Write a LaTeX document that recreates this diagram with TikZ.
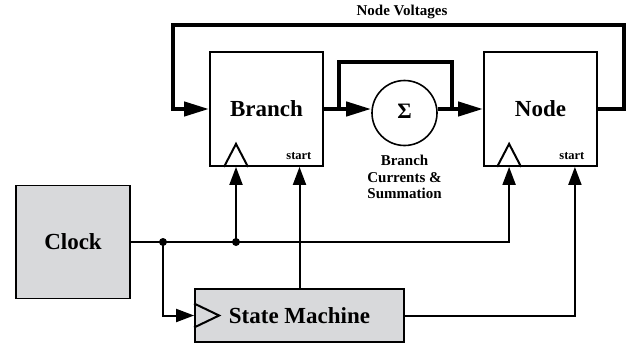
\documentclass[tikz,border=0pt]{standalone}
\usepackage{fontspec}
\setmainfont{Liberation Serif}
\usepackage{tikz}
\usetikzlibrary{positioning}
\usetikzlibrary{arrows.meta,calc}

\definecolor{blockgray}{RGB}{216,217,219}

\tikzset{
  block/.style={draw, line width=1.8pt, minimum width=113pt, minimum height=114pt, font=\fontsize{23}{26}\selectfont\bfseries},
  grayblock/.style={block, fill=blockgray},
  sumnode/.style={draw, circle, line width=1.6pt, minimum size=65pt, inner sep=0pt, font=\fontsize{22}{22}\selectfont\bfseries},
  bus/.style={line width=4.2pt},
  sig/.style={line width=2pt},
  bigarrow/.style={-{Triangle[length=25pt,width=14pt]}},
  arrowsig/.style={-{Triangle[length=18pt,width=13pt]}},
  lbl/.style={font=\fontsize{15}{16.5}\selectfont\bfseries, align=center, inner sep=0pt},
  startlbl/.style={font=\fontsize{12.5}{13}\selectfont\bfseries, inner sep=0pt},
  dot/.style={circle, fill=black, inner sep=0pt, minimum size=8pt},
}

\begin{document}
\begin{tikzpicture}[x=1pt, y=-1pt]
 \useasboundingbox (0,0) rectangle (634,343);

 %blocks
 \node[block] (branch) at (266.5,109) {Branch};
 \node[block] (node) at (540.5,109) {Node};
 \node[sumnode] (sum) at (404.5,113) {\raisebox{3pt}{Σ}};
 \node[grayblock, minimum width=114pt, minimum height=113pt] (clock) at (73,242) {Clock};
 \node[grayblock, minimum width=209pt, minimum height=53pt] (sm) at (299.5,315.5) {State Machine};

 %labels
 \node[lbl] (nv) at (402,12) {Node Voltages};
 \node[lbl, below=9pt of sum] (sumlbl) {Branch\\Currents \&\\Summation};
 \node[startlbl] (bstart) at ($(branch.south east)+(-25,-11)$) {start};
 \node[startlbl] (nstart) at ($(node.south east)+(-26,-11)$) {start};

 %clock inputs
 \coordinate (split) at (163,242);
 \coordinate (tap) at (236,242);
 \coordinate (bclk) at (tap |- branch.south);
 \coordinate (nclk) at ($(node.south west)+(26,0)$);
 \coordinate (nst) at ($(node.south east)+(-23,0)$);
 \foreach \c in {bclk, nclk} {
   \draw[sig] ($(\c)+(-12,0)$) -- ($(\c)+(0,-23)$) -- ($(\c)+(12,0)$);
 }
 \draw[sig] ($(sm.west)+(0,-12)$) -- ($(sm.west)+(25,0)$) -- ($(sm.west)+(0,12)$);

 %bus
 \coordinate (byL) at (339,62);
 \coordinate (byR) at (452,62);
 \coordinate (fbR) at (624,25);
 \coordinate (fbL) at (173,25);
 \draw[bus, bigarrow] (branch.east) -- (branch.east -| sum.west);
 \draw[bus, bigarrow] (node.west -| sum.east) -- (node.west);
 \draw[bus] (byL |- branch.east) -- (byL) -- (byR) -- (byR |- node.west);
 \draw[bus, bigarrow] (node.east) -| (fbR) -- (fbL) |- (branch.west);

 %clock and control
 \draw[line width=2.6pt] (clock.east) -- (split);
 \draw[sig, arrowsig] (split) -- (tap) -| (nclk);
 \draw[sig, arrowsig] (tap) -- (bclk);
 \draw[sig, arrowsig] (split) |- (sm.west);
 \draw[sig, arrowsig] (sm.north) -- (sm.north |- branch.south);
 \draw[sig, arrowsig] (sm.east) -| (nst);
 \node[dot] (d1) at (split) {};
 \node[dot] (d2) at (tap) {};

\end{tikzpicture}
\end{document}
